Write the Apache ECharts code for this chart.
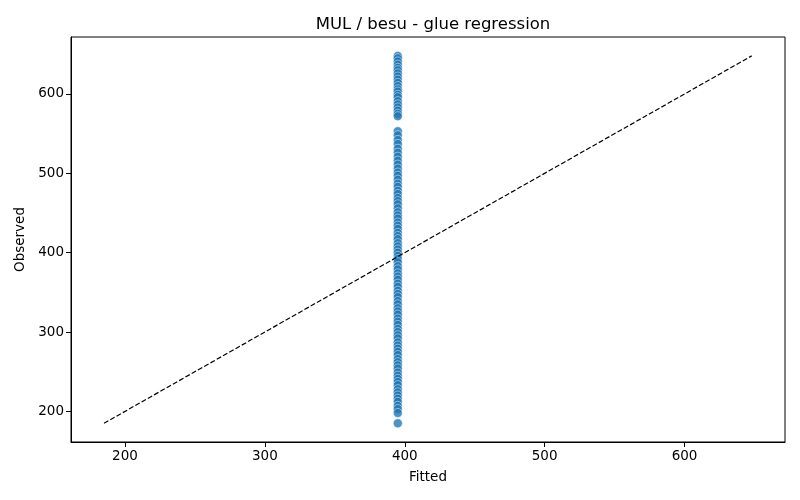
<!DOCTYPE html>
<html>
<head>
<meta charset="utf-8">
<script src="https://cdn.jsdelivr.net/npm/echarts@6/dist/echarts.min.js"></script>
<style>
  html, body { margin: 0; padding: 0; background: #fff; }
  #chart { width: 800px; height: 500px; }
</style>
</head>
<body>
<div id="chart"></div>
<script>
// values
var fittedValue = 395;
var observed = [
  648, 645, 641, 637, 633, 630, 626, 622, 618, 614, 610, 606, 603, 599, 596,
  591, 587, 583, 579, 575, 572,
  553, 548, 542, 537, 531, 526, 521, 516, 511, 506, 501, 497, 492, 487, 483,
  478, 474, 469, 465, 461, 456, 451, 447, 443, 438, 434, 430, 425, 421, 417,
  412, 408, 404, 400, 396, 392, 388, 383, 379, 374, 370, 366, 361, 357, 352,
  348, 344, 339, 335, 330, 326, 322, 317, 313, 309, 304, 300, 296, 292, 287,
  283, 279, 275, 271, 266, 262, 258, 254, 249, 245, 241, 237, 233, 228, 224,
  220, 216, 212, 207, 203, 198, 185
];
var tickValues = [200, 300, 400, 500, 600];
var axisMin = 161.4;
var axisMax = 671.8;

var points = observed.map(function (v) { return [fittedValue, v]; });
var lo = Math.min.apply(null, observed);
var hi = Math.max.apply(null, observed);
var diagonal = [[lo, lo], [hi, hi]];

var font = 'DejaVu Sans';

function axisCfg(name, isY) {
  return {
    type: 'value',
    min: axisMin,
    max: axisMax,
    name: name,
    nameLocation: 'middle',
    nameGap: isY ? 35 : 28,
    nameTextStyle: { color: '#000', fontSize: 13.5, fontFamily: font },
    axisLine: { show: true, onZero: false, lineStyle: { color: '#000', width: 1 } },
    axisTick: { show: true, length: 5, customValues: tickValues, lineStyle: { color: '#000' } },
    axisLabel: { customValues: tickValues, color: '#000', fontSize: 13.5, fontFamily: font, margin: 7 },
    splitLine: { show: false }
  };
}

var myChart = echarts.init(document.getElementById('chart'));
var option = {
  animation: false,
  backgroundColor: '#fff',
  title: {
    text: 'MUL / besu - glue regression',
    left: 428,
    top: 11,
    textAlign: 'center',
    textStyle: { color: '#000', fontSize: 16.5, fontWeight: 'normal', fontFamily: font }
  },
  grid: {
    left: 71, right: 15, top: 37, bottom: 58,
    show: true, borderColor: '#000', borderWidth: 1
  },
  xAxis: axisCfg('Fitted', false),
  yAxis: axisCfg('Observed', true),
  series: [
    {
      type: 'scatter',
      data: points,
      symbolSize: 9,
      itemStyle: { color: '#1f77b4', opacity: 0.8, borderColor: '#fff', borderWidth: 0.6 },
      z: 2
    },
    {
      type: 'line',
      data: diagonal,
      symbol: 'none',
      lineStyle: { color: '#000', width: 1.2, type: [5, 2.2] },
      z: 3
    }
  ]
};
myChart.setOption(option);
</script>
</body>
</html>
